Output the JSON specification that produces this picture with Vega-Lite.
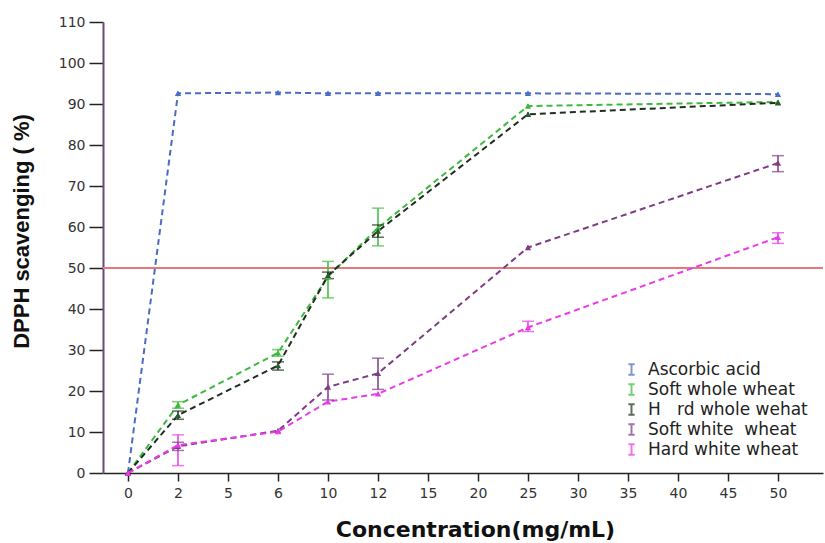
{
  "$schema": "https://vega.github.io/schema/vega-lite/v6.json",
  "autosize": {"type": "none"},
  "width": 720,
  "height": 451,
  "padding": {"left": 103, "top": 22, "right": 2, "bottom": 70},
  "background": "white",
  "config": {
    "view": {"stroke": null},
    "axis": {"grid": false}
  },
  "datasets": {
    "dpph": [
      {"series": "Ascorbic acid", "conc": "0", "y": 0, "lo": 0, "hi": 0},
      {"series": "Ascorbic acid", "conc": "2", "y": 92.6, "lo": 92.2, "hi": 93.0},
      {"series": "Ascorbic acid", "conc": "6", "y": 92.8, "lo": 92.4, "hi": 93.2},
      {"series": "Ascorbic acid", "conc": "10", "y": 92.6, "lo": 92.2, "hi": 93.0},
      {"series": "Ascorbic acid", "conc": "12", "y": 92.6, "lo": 92.2, "hi": 93.0},
      {"series": "Ascorbic acid", "conc": "25", "y": 92.6, "lo": 92.2, "hi": 93.0},
      {"series": "Ascorbic acid", "conc": "50", "y": 92.4, "lo": 92.0, "hi": 92.8},
      {"series": "Soft whole wheat", "conc": "0", "y": 0, "lo": 0, "hi": 0},
      {"series": "Soft whole wheat", "conc": "2", "y": 16.6, "lo": 15.8, "hi": 17.4},
      {"series": "Soft whole wheat", "conc": "6", "y": 29.3, "lo": 28.5, "hi": 30.1},
      {"series": "Soft whole wheat", "conc": "10", "y": 47.9, "lo": 42.7, "hi": 51.6},
      {"series": "Soft whole wheat", "conc": "12", "y": 59.8, "lo": 55.4, "hi": 64.6},
      {"series": "Soft whole wheat", "conc": "25", "y": 89.5, "lo": 89.0, "hi": 90.0},
      {"series": "Soft whole wheat", "conc": "50", "y": 90.5, "lo": 90.0, "hi": 91.0},
      {"series": "H\u00a0\u00a0\u00a0rd whole wehat", "conc": "0", "y": 0, "lo": 0, "hi": 0},
      {"series": "H\u00a0\u00a0\u00a0rd whole wehat", "conc": "2", "y": 14.1, "lo": 13.1, "hi": 15.1},
      {"series": "H\u00a0\u00a0\u00a0rd whole wehat", "conc": "6", "y": 26.2, "lo": 25.1, "hi": 27.1},
      {"series": "H\u00a0\u00a0\u00a0rd whole wehat", "conc": "10", "y": 48.2, "lo": 47.4, "hi": 49.0},
      {"series": "H\u00a0\u00a0\u00a0rd whole wehat", "conc": "12", "y": 59.0, "lo": 57.5, "hi": 60.5},
      {"series": "H\u00a0\u00a0\u00a0rd whole wehat", "conc": "25", "y": 87.5, "lo": 87.0, "hi": 88.0},
      {"series": "H\u00a0\u00a0\u00a0rd whole wehat", "conc": "50", "y": 90.3, "lo": 89.8, "hi": 90.8},
      {"series": "Soft white\u00a0 wheat", "conc": "0", "y": 0, "lo": 0, "hi": 0},
      {"series": "Soft white\u00a0 wheat", "conc": "2", "y": 6.5, "lo": 5.5, "hi": 7.5},
      {"series": "Soft white\u00a0 wheat", "conc": "6", "y": 10.3, "lo": 9.8, "hi": 10.8},
      {"series": "Soft white\u00a0 wheat", "conc": "10", "y": 21.0, "lo": 17.8, "hi": 24.1},
      {"series": "Soft white\u00a0 wheat", "conc": "12", "y": 24.3, "lo": 20.4, "hi": 28.0},
      {"series": "Soft white\u00a0 wheat", "conc": "25", "y": 55.0, "lo": 54.5, "hi": 55.5},
      {"series": "Soft white\u00a0 wheat", "conc": "50", "y": 75.6, "lo": 73.5, "hi": 77.4},
      {"series": "Hard white wheat", "conc": "0", "y": 0, "lo": 0, "hi": 0},
      {"series": "Hard white wheat", "conc": "2", "y": 6.8, "lo": 1.8, "hi": 9.3},
      {"series": "Hard white wheat", "conc": "6", "y": 10.1, "lo": 9.6, "hi": 10.6},
      {"series": "Hard white wheat", "conc": "10", "y": 17.4, "lo": 16.9, "hi": 17.9},
      {"series": "Hard white wheat", "conc": "12", "y": 19.3, "lo": 18.8, "hi": 19.8},
      {"series": "Hard white wheat", "conc": "25", "y": 35.5, "lo": 34.5, "hi": 37.0},
      {"series": "Hard white wheat", "conc": "50", "y": 57.5, "lo": 56.0, "hi": 58.6}
    ]
  },
  "layer": [
    {
      "data": {"values": [{"threshold": 50}]},
      "mark": {"type": "rule", "color": "#e87878", "strokeWidth": 2},
      "encoding": {"y": {"field": "threshold", "type": "quantitative", "scale": {"domain": [0, 110]}}}
    },
    {
      "data": {"name": "dpph"},
      "mark": {"type": "line", "strokeDash": [6, 4], "strokeWidth": 2},
      "encoding": {
        "x": {
          "field": "conc", "type": "ordinal",
          "scale": {"type": "point", "domain": ["0", "2", "5", "6", "10", "12", "15", "20", "25", "30", "35", "40", "45", "50"], "padding": 0.7, "align": 0.357},
          "axis": {
            "labelAngle": 0, "domainColor": "#222", "domainWidth": 1.5, "tickColor": "#222", "tickWidth": 1.5, "tickSize": 8,
            "labelFont": "DejaVu Sans", "labelFontSize": 14, "labelColor": "#333", "labelPadding": 5,
            "title": "Concentration(mg/mL)", "titleFont": "DejaVu Sans", "titleFontSize": 22, "titleFontWeight": "bold", "titleColor": "#111",
            "titleX": 372, "titleY": 56, "titleBaseline": "middle", "titleAnchor": "middle"
          }
        },
        "y": {
          "field": "y", "type": "quantitative",
          "scale": {"domain": [0, 110]},
          "axis": {
            "values": [0, 10, 20, 30, 40, 50, 60, 70, 80, 90, 100, 110],
            "domainColor": "#6a4a78", "domainWidth": 2, "tickColor": "#222", "tickWidth": 1.5, "tickSize": 14,
            "labelFont": "DejaVu Sans", "labelFontSize": 14, "labelColor": "#333", "labelPadding": 4,
            "title": "DPPH scavenging ( %)", "titleFont": "Liberation Sans", "titleFontSize": 22, "titleFontWeight": "bold", "titleColor": "#111",
            "titleX": -82, "titleY": 209, "titleBaseline": "middle", "titleAngle": -90
          }
        },
        "color": {
          "field": "series", "type": "nominal",
          "scale": {
            "domain": ["Ascorbic acid", "Soft whole wheat", "H\u00a0\u00a0\u00a0rd whole wehat", "Soft white\u00a0 wheat", "Hard white wheat"],
            "range": ["#4a6cc4", "#3dba3d", "#1f2f1f", "#7d3c84", "#e83ce8"]
          },
          "legend": {
            "orient": "none", "legendX": 520, "legendY": 339, "title": null, "padding": 0,
            "symbolType": "M-0.6,-1H0.6M0,-1V1M-0.6,1H0.6", "symbolSize": 110, "symbolStrokeWidth": 2,
            "labelFont": "DejaVu Sans", "labelFontSize": 17, "labelColor": "#222", "labelOffset": 8, "rowPadding": 1, "labelLimit": 0
          }
        }
      }
    },
    {
      "data": {"name": "dpph"},
      "transform": [{"filter": "datum.hi > datum.lo"}],
      "mark": {"type": "rule", "strokeWidth": 1.5},
      "encoding": {
        "x": {"field": "conc", "type": "ordinal"},
        "y": {"field": "lo", "type": "quantitative"},
        "y2": {"field": "hi"},
        "color": {"field": "series", "type": "nominal"}
      }
    },
    {
      "data": {"name": "dpph"},
      "transform": [{"filter": "datum.hi > datum.lo + 1"}],
      "mark": {"type": "tick", "size": 12, "thickness": 1.5},
      "encoding": {
        "x": {"field": "conc", "type": "ordinal"},
        "y": {"field": "lo", "type": "quantitative"},
        "color": {"field": "series", "type": "nominal"}
      }
    },
    {
      "data": {"name": "dpph"},
      "transform": [{"filter": "datum.hi > datum.lo + 1"}],
      "mark": {"type": "tick", "size": 12, "thickness": 1.5},
      "encoding": {
        "x": {"field": "conc", "type": "ordinal"},
        "y": {"field": "hi", "type": "quantitative"},
        "color": {"field": "series", "type": "nominal"}
      }
    },
    {
      "data": {"name": "dpph"},
      "mark": {"type": "point", "filled": true, "shape": "triangle-up", "size": 40, "opacity": 1},
      "encoding": {
        "x": {"field": "conc", "type": "ordinal"},
        "y": {"field": "y", "type": "quantitative"},
        "fill": {
          "field": "series", "type": "nominal", "legend": null,
          "scale": {
            "domain": ["Ascorbic acid", "Soft whole wheat", "H\u00a0\u00a0\u00a0rd whole wehat", "Soft white\u00a0 wheat", "Hard white wheat"],
            "range": ["#4a6cc4", "#3dba3d", "#2d5a36", "#7d3c84", "#e83ce8"]
          }
        }
      }
    }
  ]
}
